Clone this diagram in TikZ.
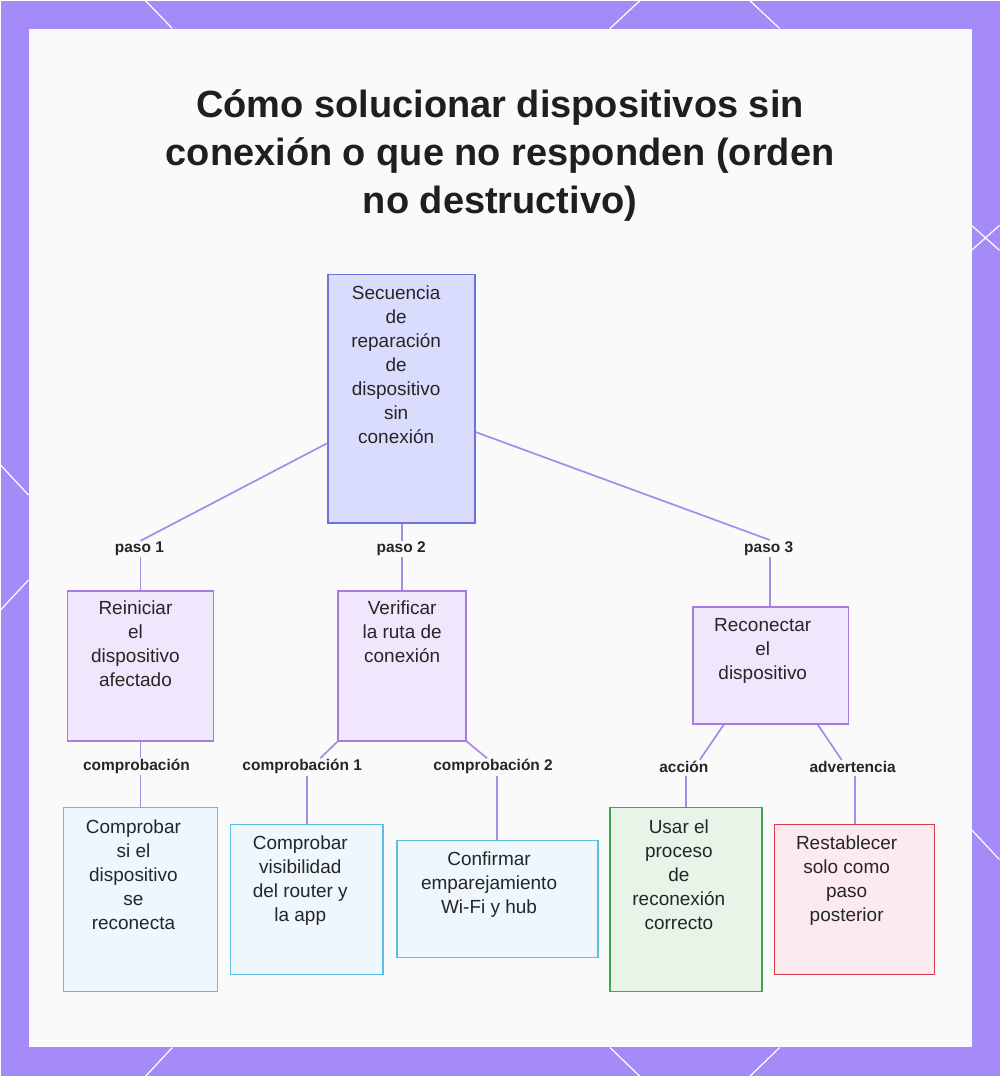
\documentclass[tikz,border=0pt]{standalone}
\usepackage{fontspec}
\setmainfont{Liberation Sans}
\begin{document}
\begin{tikzpicture}[x=1pt,y=-1pt,
  box/.style={draw,line width=1.5pt,inner sep=0pt},
  purp/.style={box,fill=lav,draw=lavd},
  blue/.style={box,fill=bl,draw=bld},
  txt/.style={anchor=north,align=center,font=\fontsize{19}{24}\selectfont,text=black!85,inner sep=0pt},
  lab/.style={font=\bfseries\fontsize{15.5}{16}\selectfont,text=black!85,inner sep=1pt},
  edge/.style={draw=edgec,line width=1.7pt}]
\definecolor{bord}{HTML}{A58BF7}
\definecolor{lav}{HTML}{F1E7FD}\definecolor{lavd}{HTML}{A77BE0}
\definecolor{rootf}{HTML}{D9DCFD}\definecolor{rootd}{HTML}{6E72D9}
\definecolor{bl}{HTML}{EEF7FD}\definecolor{bld}{HTML}{5BC0E0}
\definecolor{gr}{HTML}{E7F4E7}\definecolor{grd}{HTML}{3FA64A}
\definecolor{rd}{HTML}{FCEBEE}\definecolor{rdd}{HTML}{D93B4B}
\definecolor{edgec}{HTML}{A78BEA}
\fill[bord] (0,0) rectangle (1000,1077);
\fill[white!96!gray] (28,28) rectangle (972,1048);
\foreach \a/\b/\c/\d in {145/0/172/28, 610/28/640/0, 750/0/780/28, 972/225/1000/250, 972/250/1000/225, 0/465/28/495, 0/610/28/580, 972/830/1000/860, 145/1077/172/1048, 610/1048/640/1077, 750/1077/780/1048}
  \draw[white,line width=1.2pt] (\a,\b) -- (\c,\d);
\node[font=\bfseries\fontsize{38}{48}\selectfont,align=center,text=black!88,anchor=north] (title) at (500,86) {Cómo solucionar dispositivos sin\\conexión o que no responden (orden\\no destructivo)};
% boxes
\node[box,fill=rootf,draw=rootd,minimum width=147pt,minimum height=249pt] (root) at (401.5,398.5) {};
\node[txt] (roott) at (396,285) {Secuencia\\de\\reparación\\de\\dispositivo\\sin\\conexión};
\node[purp,minimum width=146pt,minimum height=150pt] (A) at (140,666) {};
\node[txt] (At) at (135,601) {Reiniciar\\el\\dispositivo\\afectado};
\node[purp,minimum width=128pt,minimum height=150pt] (B) at (402,666) {};
\node[txt] (Bt) at (402,601) {Verificar\\la ruta de\\conexión};
\node[purp,minimum width=156pt,minimum height=117pt] (C) at (771,665.5) {};
\node[txt] (Ct) at (763,618) {Reconectar\\el\\dispositivo};
\node[blue,minimum width=154pt,minimum height=184pt] (D1) at (140,900) {};
\node[txt] (D1t) at (133,820) {Comprobar\\si el\\dispositivo\\se\\reconecta};
\node[blue,minimum width=153pt,minimum height=150pt] (D2) at (306.5,900) {};
\node[txt] (D2t) at (300,836) {Comprobar\\visibilidad\\del router y\\la app};
\node[blue,minimum width=201pt,minimum height=117pt] (D3) at (497.5,899.5) {};
\node[txt] (D3t) at (489,852) {Confirmar\\emparejamiento\\Wi-Fi y hub};
\node[box,fill=gr,draw=grd,minimum width=152pt,minimum height=184pt] (E1) at (686,900) {};
\node[txt] (E1t) at (679,820) {Usar el\\proceso\\de\\reconexión\\correcto};
\node[box,fill=rd,draw=rdd,minimum width=160pt,minimum height=150pt] (E2) at (855,900) {};
\node[txt] (E2t) at (847,836) {Restablecer\\solo como\\paso\\posterior};
% labels
\node[lab] (l1) at (139,549) {paso 1};
\node[lab] (l2) at (401,549) {paso 2};
\node[lab] (l3) at (769,549) {paso 3};
\node[lab] (l4) at (136,767) {comprobación};
\node[lab] (l5) at (302,767) {comprobación 1};
\node[lab] (l6) at (493,767) {comprobación 2};
\node[lab] (l7) at (684,767) {acción};
\node[lab] (l8) at (853,767) {advertencia};
% edges
\draw[edge] (root.west |- 0,443) -- (l1.north east -| 140,0) ; \draw[edge] (l1.south -| 140,0) -- (A.north -| 140,0);
\draw[edge] (root.south -| 402,0) -- (l2.north -| 402,0); \draw[edge] (l2.south -| 402,0) -- (B.north -| 402,0);
\draw[edge] (root.east |- 0,432) -- (770,540); \draw[edge] (l3.south -| 770,0) -- (C.north -| 770,0);
\draw[edge] (A.south) -- (l4.north -| 140,0); \draw[edge] (l4.south -| 140,0) -- (D1.north -| 140,0);
\draw[edge] (B.south west) -- (l5.north -| 320,0); \draw[edge] (307,776) -- (D2.north -| 307,0);
\draw[edge] (B.south east) -- (l6.north -| 487,0); \draw[edge] (497,776) -- (D3.north -| 497,0);
\draw[edge] (C.south -| 724,0) -- (l7.north -| 700,0); \draw[edge] (686,776) -- (E1.north -| 686,0);
\draw[edge] (C.south -| 818,0) -- (l8.north -| 842,0); \draw[edge] (855,776) -- (E2.north -| 855,0);
\useasboundingbox (0,0) rectangle (1000,1077);
\end{tikzpicture}
\end{document}
